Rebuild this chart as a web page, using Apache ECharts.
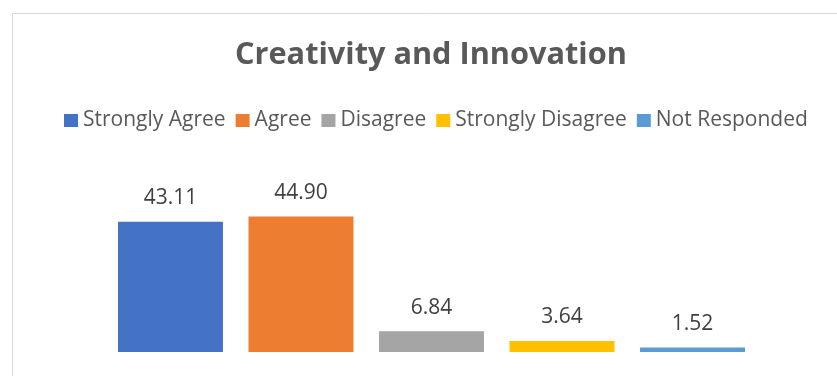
<!DOCTYPE html>
<html><head><meta charset="utf-8">
<script src="https://cdn.jsdelivr.net/npm/echarts@6/dist/echarts.min.js"></script>
<style>html,body{margin:0;padding:0;background:#fff}#c{width:837px;height:376px}</style>
</head><body><div id="c"></div>
<script>
const categories = ['Creativity and Innovation'];
const seriesNames = ['Strongly Agree', 'Agree', 'Disagree', 'Strongly Disagree', 'Not Responded'];
const seriesValues = [43.11, 44.90, 6.84, 3.64, 1.52];
const colors = ['#4472C4', '#ED7D31', '#A5A5A5', '#FFC000', '#5B9BD5'];
const font = 'Open Sans';

const chart = echarts.init(document.getElementById('c'));
chart.setOption({
  animation: false,
  graphic: [{type: 'rect', left: 10, top: 11, shape: {x: 0, y: 0, width: 900, height: 500},
    style: {fill: 'none', stroke: '#d9d9d9', lineWidth: 1}, silent: true}],
  title: {text: 'Creativity and Innovation', left: 235, top: 40, padding: 0,
    textStyle: {fontFamily: font, fontWeight: 'bold', fontSize: 30.7, color: '#595959'}},
  legend: {top: 110, left: 64, padding: 0, itemWidth: 14, itemHeight: 13, itemGap: 10,
    icon: 'rect',
    textStyle: {fontFamily: font, fontSize: 21, color: '#595959'},
    data: seriesNames},
  grid: {left: 60, right: 34, top: 201, bottom: 24, containLabel: false},
  xAxis: {type: 'category', data: categories, show: false},
  yAxis: {type: 'value', min: 0, max: 50, show: false},
  series: seriesNames.map((n, i) => ({
    name: n, type: 'bar', barWidth: 105, barGap: '24.3%',
    itemStyle: {color: colors[i]},
    label: {show: true, position: 'top', distance: 13, fontFamily: font, fontSize: 21, color: '#404040',
      formatter: p => p.value.toFixed(2)},
    data: [seriesValues[i]]
  }))
});
</script></body></html>
